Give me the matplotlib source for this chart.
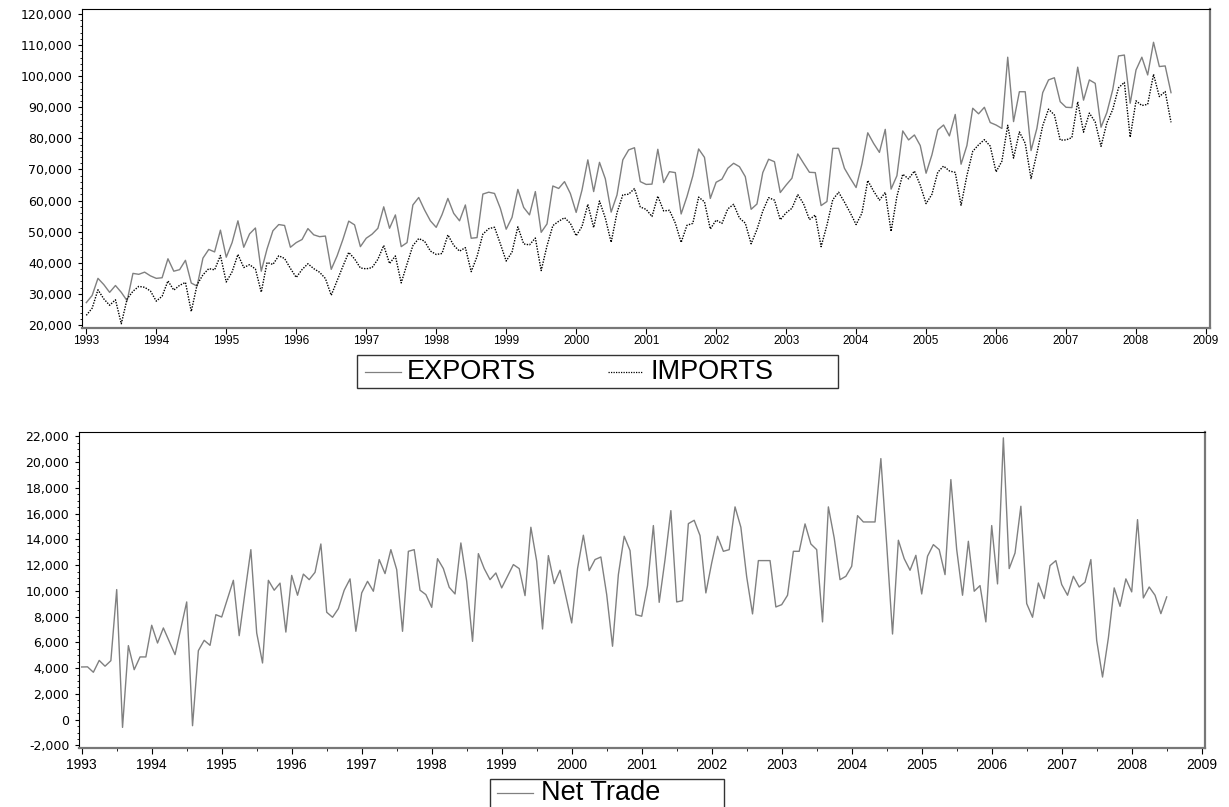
import matplotlib
matplotlib.use("Agg")
import matplotlib.pyplot as plt
from matplotlib.patches import Rectangle
from matplotlib.lines import Line2D
from matplotlib.ticker import FuncFormatter, MultipleLocator
import numpy as np

# Monthly series, Jan 1993 - Jul 2008
start_year = 1993
exports = [
    27200, 29500, 35000, 33000, 30500, 32700, 30500, 27800, 36600, 36300, 37000, 35800,
    35000, 35200, 41300, 37300, 37800, 40800, 33500, 32500, 41500, 44300, 43500, 50500,
    41800, 46500, 53500, 45000, 49300, 51200, 37300, 44500, 50300, 52300, 52000, 45000,
    46500, 47500, 51000, 49000, 48400, 48600, 37900, 42200, 47500, 53400, 52200, 45200,
    47900, 49200, 51100, 58000, 51100, 55400, 45200, 46500, 58600, 61000, 57000, 53500,
    51400, 55500, 60700, 55900, 53500, 58600, 47900, 48100, 62100, 62700, 62300, 57500,
    50800, 54600, 63600, 57800, 55400, 62900, 49800, 52500, 64700, 63900, 66100, 62300,
    56200, 63400, 73100, 62900, 72300, 67000, 56300, 61800, 73100, 76300, 77000, 66100,
    65200, 65300, 76500, 65800, 69300, 69000, 55700, 61300, 67900, 76600, 73900, 60700,
    65900, 66900, 70400, 72000, 70900, 67700, 57200, 58900, 69000, 73300, 72500, 62600,
    65000, 67200, 75000, 72000, 69100, 69000, 58400, 59700, 76800, 76800, 70400, 67200,
    64200, 71800, 81800, 78400, 75500, 82900, 63700, 68000, 82400, 79500, 81100, 77700,
    68800, 74700, 82700, 84300, 80800, 87700, 71700, 77700, 89700, 87900, 90000, 85100,
    84300, 83200, 106100, 85400, 95000, 95000, 76100, 83200, 94700, 98800, 99500, 91800,
    90000, 89900, 102900, 92300, 98800, 97700, 83600, 88300, 95600, 106500, 106800, 91300,
    102000, 106100, 100400, 110900, 103100, 103300, 94700,
]
imports = [
    23110, 25400, 31320, 28400, 26350, 28120, 20400, 28400, 30850, 32420, 32130, 30930,
    27670, 29250, 34180, 31220, 32750, 33700, 24360, 32970, 36140, 38140, 37730, 42350,
    33830, 37100, 42680, 38480, 39400, 38000, 30570, 40100, 39480, 42250, 41400, 38200,
    35300, 37840, 39700, 38130, 36960, 34960, 29560, 34250, 38880, 43350, 41270, 38340,
    38060, 38460, 41130, 45570, 39760, 42200, 33550, 39640, 45530, 47800, 46950, 43790,
    42680, 43000, 48970, 45620, 43740, 44880, 37160, 42020, 49210, 50970, 51430, 46110,
    40570, 43470, 51560, 46070, 45770, 47960, 37500, 45460, 51960, 53340, 54500, 52720,
    48690, 51670, 58780, 51330, 59870, 54370, 46590, 56100, 61840, 62060, 63870, 57950,
    57170, 54890, 61430, 56690, 56870, 52770, 46560, 52060, 52680, 61120, 59610, 50860,
    53730, 52660, 57330, 58800, 54380, 52760, 46120, 50690, 56650, 60950, 60150, 53850,
    56070, 57540, 61930, 58930, 53900, 55360, 45200, 52110, 60280, 62690, 59530, 56070,
    52290, 55960, 66450, 63050, 60150, 62630, 50100, 61350, 68470, 67000, 69500, 64940,
    59040, 62010, 69110, 71100, 69540, 69060, 58500, 68040, 75850, 77930, 79590, 77510,
    69230, 72660, 84220, 73670, 82060, 78430, 67090, 75250, 84090, 89400, 87540, 79450,
    79510, 80240, 91770, 82000, 88130, 85270, 77460, 84990, 89260, 96270, 98000, 80370,
    92080, 90570, 90950, 100600, 93440, 95070, 85170,
]
net_trade = [
    4090, 4100, 3680, 4600, 4150, 4580, 10100, -600, 5750, 3880, 4870, 4870,
    7330, 5950, 7120, 6080, 5050, 7100, 9140, -470, 5360, 6160, 5770, 8150,
    7970, 9400, 10820, 6520, 9900, 13200, 6730, 4400, 10820, 10050, 10600, 6800,
    11200, 9660, 11300, 10870, 11440, 13640, 8340, 7950, 8620, 10050, 10930, 6860,
    9840, 10740, 9970, 12430, 11340, 13200, 11650, 6860, 13070, 13200, 10050, 9710,
    8720, 12500, 11730, 10280, 9760, 13720, 10740, 6080, 12890, 11730, 10870, 11390,
    10230, 11130, 12040, 11730, 9630, 14940, 12300, 7040, 12740, 10560, 11600, 9580,
    7510, 11730, 14320, 11570, 12430, 12630, 9710, 5700, 11260, 14240, 13130, 8150,
    8030, 10410, 15070, 9110, 12430, 16230, 9140, 9240, 15220, 15480, 14290, 9840,
    12170, 14240, 13070, 13200, 16520, 14940, 11080, 8210, 12350, 12350, 12350, 8750,
    8930, 9660, 13070, 13070, 15200, 13640, 13200, 7590, 16520, 14110, 10870, 11130,
    11910, 15840, 15350, 15350, 15350, 20270, 13600, 6650, 13930, 12500, 11600, 12760,
    9760, 12690, 13590, 13200, 11260, 18640, 13200, 9660, 13850, 9970, 10410, 7590,
    15070, 10540, 21880, 11730, 12940, 16570, 9010, 7950, 10610, 9400, 11960, 12350,
    10490, 9660, 11130, 10300, 10670, 12430, 6140, 3310, 6340, 10230, 8800, 10930,
    9920, 15530, 9450, 10300, 9660, 8230, 9530,
]
years = list(range(1993, 2010))

W, H = 1229, 807
t = start_year + np.arange(len(exports)) / 12.0

fig = plt.figure(figsize=(W / 100, H / 100), dpi=100)
fig.patch.set_facecolor('white')


def box(x0, y0, x1, y1):
    # pixel box (top-left origin) -> figure fraction rect
    return [x0 / W, 1 - y1 / H, (x1 - x0) / W, (y1 - y0) / H]


def style_axis(ax, ylabel_size, xlabel_size, xpad):
    for s in ['top', 'left']:
        ax.spines[s].set_color('black')
        ax.spines[s].set_linewidth(0.8)
    for s in ['bottom', 'right']:
        ax.spines[s].set_color('#777777')
        ax.spines[s].set_linewidth(1.6)
    ax.set_xticks(years)
    ax.set_xticklabels([str(y) for y in years], family='Liberation Sans', fontsize=xlabel_size)
    ax.yaxis.set_major_formatter(FuncFormatter(lambda v, p: '{:,.0f}'.format(v)))
    ax.tick_params(axis='y', which='major', direction='out', length=3, width=0.8,
                   labelsize=ylabel_size, pad=4, right=False)
    ax.tick_params(axis='y', which='minor', direction='out', length=1.5, width=0.6, right=False)
    ax.tick_params(axis='x', which='major', direction='out', length=4, width=0.8, pad=xpad,
                   top=False)
    ax.tick_params(axis='x', which='minor', direction='out', length=2, width=0.6, top=False)
    for lab in ax.get_yticklabels():
        lab.set_family('DejaVu Sans')


# ---- top panel: exports and imports ----
ax1 = fig.add_axes(box(82, 9, 1210, 328))
ax1.plot(t, exports, color='#808080', lw=1.0)
ax1.plot(t, imports, color='black', lw=1.0, linestyle=(0, (1, 1)))
ax1.set_xlim(1993 - 4.3 / 70, 2009 + 4 / 70)
ax1.set_ylim(19040, 121600)
ax1.set_yticks(np.arange(20000, 120001, 10000))
ax1.yaxis.set_minor_locator(MultipleLocator(2000))
style_axis(ax1, 9, 8.5, 1)

# ---- bottom panel: net trade ----
ax2 = fig.add_axes(box(79, 432, 1205, 748))
ax2.plot(t, net_trade, color='#808080', lw=1.0)
ax2.set_xlim(1993 - 2.7 / 70, 2009 + 3.3 / 70)
ax2.set_ylim(-2200, 22334)
ax2.set_yticks(np.arange(-2000, 22001, 2000))
ax2.yaxis.set_minor_locator(MultipleLocator(500))
ax2.xaxis.set_minor_locator(MultipleLocator(0.5))
style_axis(ax2, 9, 10, 3)


# ---- legends drawn as boxes below each panel ----
def fx(x):
    return x / W


def fy(y):
    return 1 - y / H


def legend_box(x0, y0, x1, y1, items, yc):
    fig.patches.append(Rectangle((fx(x0), fy(y1)), fx(x1) - fx(x0), fy(y0) - fy(y1),
                                 transform=fig.transFigure, fill=False,
                                 edgecolor='#333333', lw=1.0, clip_on=False))
    for hx0, hx1, tx, label, color, ls in items:
        fig.lines.append(Line2D([fx(hx0), fx(hx1)], [fy(yc), fy(yc)],
                                transform=fig.transFigure, color=color, lw=0.9,
                                linestyle=ls))
        fig.text(fx(tx), fy(yc), label, family='Liberation Sans', fontsize=19.5,
                 va='center', ha='left', color='black')


legend_box(357, 355, 838, 388,
           [(365, 401, 407, 'EXPORTS', '#808080', '-'),
            (608, 643, 651, 'IMPORTS', 'black', (0, (1, 1)))], 372)
legend_box(490, 779, 724, 830,
           [(497, 533, 541, 'Net Trade', '#808080', '-')], 793)

fig.savefig('out.png', dpi=100, facecolor='white')
